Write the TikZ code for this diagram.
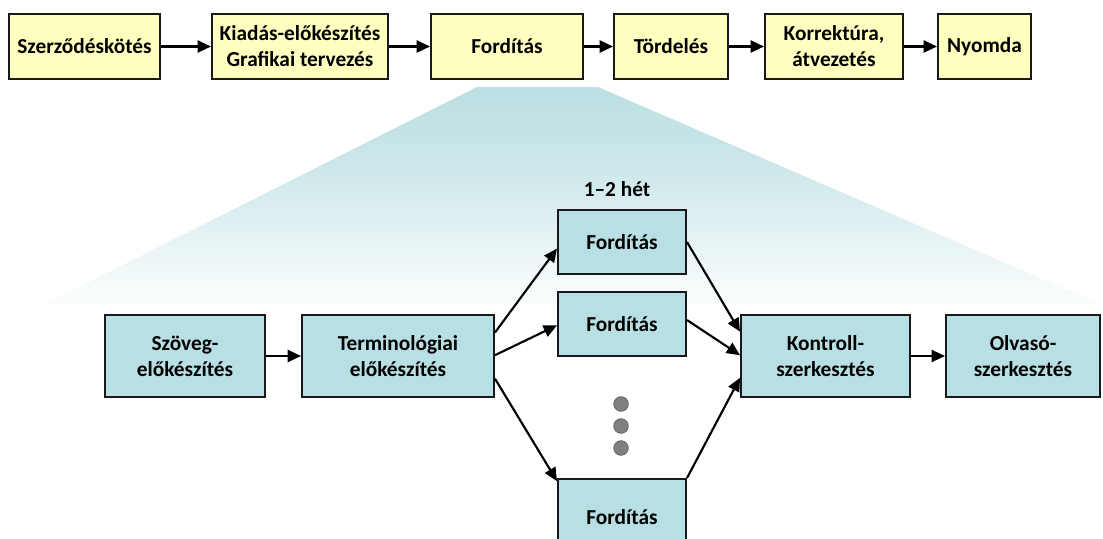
\documentclass[tikz,border=0pt]{standalone}
\usepackage{fontspec}
\setmainfont{Carlito}
\usetikzlibrary{arrows.meta,calc}
\definecolor{boxyellow}{RGB}{255,255,192}
\definecolor{boxteal}{RGB}{184,223,227}
\definecolor{funnel}{RGB}{188,223,227}
\definecolor{dotgray}{RGB}{128,128,128}
\definecolor{edge}{RGB}{25,25,25}
% vertical fade of the zoom-in funnel, teal at the top to white below
% (the filled path is mapped onto the 25bp--75bp band of the shading)
\pgfdeclareverticalshading{funnelfade}{100bp}{
  color(0bp)=(white); color(25bp)=(funnel!5!white); color(40bp)=(funnel!38!white);
  color(58bp)=(funnel!78!white); color(75bp)=(funnel); color(100bp)=(funnel)}
\begin{document}
\begin{tikzpicture}[x=0.75pt,y=-0.75pt,
  size/.style 2 args={minimum width=#1*0.75pt,minimum height=#2*0.75pt},
  basebox/.style={draw=edge,line width=1.5pt,inner sep=0pt,align=center,
    font=\fontsize{16}{19.5}\selectfont\bfseries},
  stage/.style={basebox,fill=boxyellow},
  task/.style={basebox,fill=boxteal},
  arr/.style={line width=1.6pt,-{Triangle[length=10pt,width=9pt]}},
  dot/.style={circle,fill=dotgray,draw=dotgray!80!black,line width=0.6pt,
    minimum size=14.6*0.75pt,inner sep=0pt}]
\useasboundingbox (0,0) rectangle (1103,539);
\clip (0,0) rectangle (1103,539);

% zoom-in funnel below the translation stage
\shade[shading=funnelfade]
  (477,87) -- (598,87) -- (1100,304) -- (45,304) -- cycle;

% main publishing workflow
\node[stage,size={151}{65}] (b1) at (84.5,46.5) {Szerződéskötés};
\node[stage,size={176}{65}] (b2) at (300,46.5) {Kiadás-előkészítés\\Grafikai tervezés};
\node[stage,size={152}{65}] (b3) at (507,46.5) {Fordítás};
\node[stage,size={114}{65}] (b4) at (671,46.5) {Tördelés};
\node[stage,size={138}{65}] (b5) at (834,46.5) {Korrektúra,\\átvezetés};
\node[stage,size={93}{65}]  (b6) at (984.5,46.5) {Nyomda};
\foreach \a/\b in {b1/b2,b2/b3,b3/b4,b4/b5,b5/b6}
  \draw[arr] (\a.east) -- (\b.west);

% translation sub-process
\node[task,size={160}{82}] (sz) at (185,356) {Szöveg-\\előkészítés};
\node[task,size={192}{82}] (te) at (398,356) {Terminológiai\\előkészítés};
\node[task,size={128}{64}] (f1) at (622,242) {Fordítás};
\node[task,size={128}{64}] (f2) at (622,324) {Fordítás};
\node[task,size={128}{76}] (f3) at (622,517) {Fordítás};
\node[task,size={169}{82}] (ko) at (825.5,356) {Kontroll-\\szerkesztés};
\node[task,size={154}{82}] (ol) at (1023,356) {Olvasó-\\szerkesztés};

\node[font=\fontsize{16}{19}\selectfont\bfseries] (het) at (617,189) {1–2 hét};

\node[dot] (d1) at (621,404) {};
\node[dot] (d2) at (621,426) {};
\node[dot] (d3) at (621,448) {};

\draw[arr] (sz.east) -- (te.west);
\draw[arr] ($(te.north east)!.22!(te.south east)$) -- ($(f1.north west)!.6!(f1.south west)$);
\draw[arr] ($(te.north east)!.49!(te.south east)$) -- ($(f2.north west)!.52!(f2.south west)$);
\draw[arr] ($(te.north east)!.77!(te.south east)$) -- ($(f3.north west)!.04!(f3.south west)$);
\draw[arr] ($(f1.north east)!.5!(f1.south east)$) -- ($(ko.north west)!.21!(ko.south west)$);
\draw[arr] ($(f2.north east)!.44!(f2.south east)$) -- ($(ko.north west)!.49!(ko.south west)$);
\draw[arr] (f3.north east) -- ($(ko.north west)!.76!(ko.south west)$);
\draw[arr] (ko.east) -- (ol.west);
\end{tikzpicture}
\end{document}
